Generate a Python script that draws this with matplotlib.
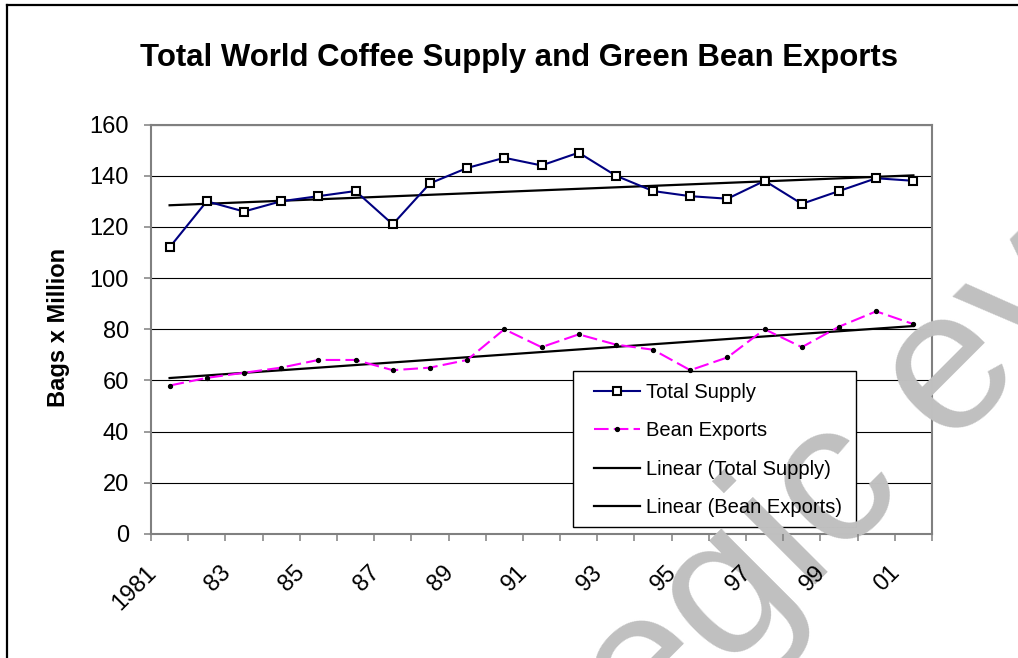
import numpy as np
import matplotlib
matplotlib.use('Agg')
import matplotlib.pyplot as plt
from matplotlib.patches import Rectangle
from matplotlib.lines import Line2D
from matplotlib.transforms import ScaledTranslation

plt.rcParams['font.family'] = ['Liberation Sans', 'DejaVu Sans']

years = list(range(1981, 2002))
year_labels = ['1981', '83', '85', '87', '89', '91', '93', '95', '97', '99', '01']
total_supply = [112, 130, 126, 130, 132, 134, 121, 137, 143, 147, 144,
                149, 140, 134, 132, 131, 138, 129, 134, 139, 138]
bean_exports = [58, 61, 63, 65, 68, 68, 64, 65, 68, 80, 73,
                78, 74, 72, 64, 69, 80, 73, 81, 87, 82]

W, H = 1018, 658
idx = np.arange(len(years))
x = idx + 0.5

# straight least-squares trend through each series
fit_supply = np.polyval(np.polyfit(idx, total_supply, 1), idx)
fit_exports = np.polyval(np.polyfit(idx, bean_exports, 1), idx)

fig = plt.figure(figsize=(W / 100, H / 100), dpi=100)
ax = fig.add_axes([151 / W, 1 - 534 / H, 781 / W, 409.5 / H])

ax.plot(x, total_supply, color='#000080', lw=1.5, marker='s', ms=6,
        mfc='white', mec='black', mew=1.5, label='Total Supply', zorder=4)
ax.plot(x, bean_exports, color='#ff00ff', lw=1.5, ls=(0, (7, 2.5)),
        marker='o', ms=2.8, mfc='black', mec='black',
        label='Bean Exports', zorder=4)
ax.plot(x, fit_supply, color='black', lw=1.6, label='Linear (Total Supply)', zorder=3.5)
ax.plot(x, fit_exports, color='black', lw=1.6, label='Linear (Bean Exports)', zorder=3.5)

ax.set_xlim(0, len(years))
ax.set_ylim(0, 160)
ax.set_yticks(np.arange(0, 161, 20))
ax.set_xticks(np.arange(len(years) + 1))
labels = [''] * (len(years) + 1)
labels[0::2] = year_labels
ax.set_xticklabels(labels, rotation=45, ha='right', va='top', rotation_mode='anchor')

ax.set_axisbelow(True)
ax.yaxis.grid(True, color='black', lw=0.8)
ax.xaxis.set_zorder(4.5)
for sp in ax.spines.values():
    sp.set_color('#808080')
    sp.set_linewidth(1.5)
ax.tick_params(axis='both', direction='out', length=5, width=1.1,
               color='#808080', labelsize=17)
ax.tick_params(axis='x', pad=15)
ax.tick_params(axis='y', pad=11)
for lab in ax.get_xticklabels():
    lab.set_transform(lab.get_transform() + ScaledTranslation(-0.06, 0, fig.dpi_scale_trans))

# legend box sits under the watermark, legend text above it
ax.add_patch(Rectangle((573 / W, 1 - 527 / H), 283 / W, 156 / H,
                       transform=fig.transFigure, facecolor='white',
                       edgecolor='black', lw=1, zorder=2.55, clip_on=False))
leg = ax.legend(loc='upper left', bbox_to_anchor=(594 / W, 1 - 383 / H),
                bbox_transform=fig.transFigure, frameon=False, fontsize=14.5,
                handlelength=2.3, handletextpad=0.3, labelspacing=0.96,
                borderpad=0, borderaxespad=0, numpoints=1)
leg.set_zorder(6)

ax.text(370 / W, -370 / H, 'strategic eye', transform=fig.transFigure,
        fontsize=145, color='#c0c0c0', rotation=45, rotation_mode='anchor',
        ha='left', va='baseline', zorder=2.6, clip_on=False)

fig.text(519 / W, 1 - 66 / H, 'Total World Coffee Supply and Green Bean Exports',
         ha='center', va='baseline', fontsize=22.4, fontweight='bold')
fig.text(59 / W, 1 - 327 / H, 'Bags x Million', rotation=90, ha='center',
         va='center', fontsize=17, fontweight='bold')

# outer chart border (top and left edges)
fig.add_artist(Line2D([6.7 / W, 1], [1 - 4.7 / H, 1 - 4.7 / H], color='black',
                      lw=1.6, transform=fig.transFigure))
fig.add_artist(Line2D([6.7 / W, 6.7 / W], [0, 1 - 4.7 / H], color='black',
                      lw=1.6, transform=fig.transFigure))

fig.savefig('out.png', dpi=100)
